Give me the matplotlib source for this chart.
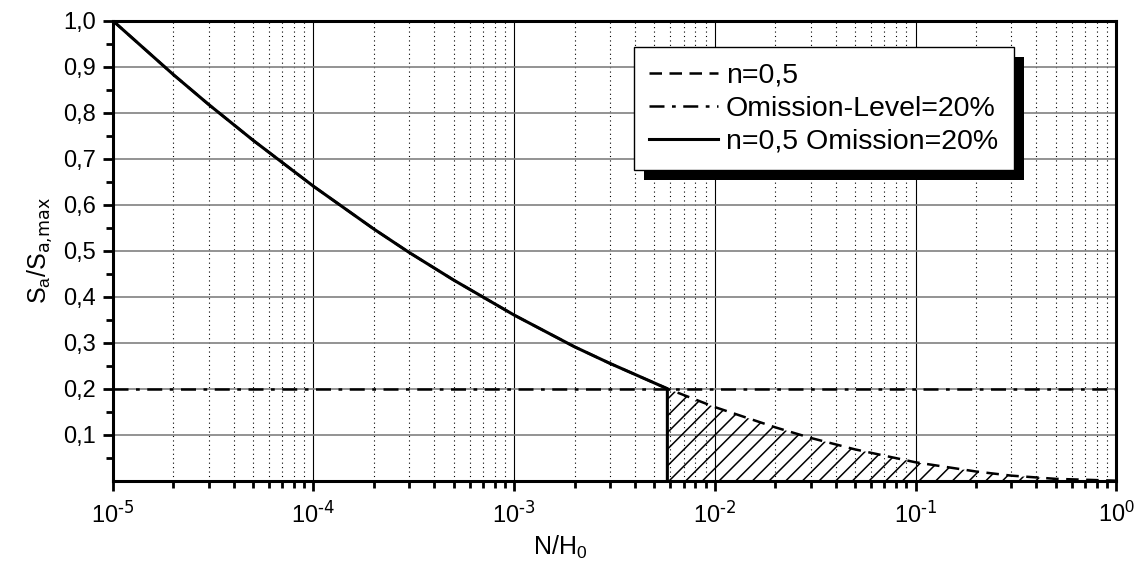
import numpy as np
import matplotlib
matplotlib.use("Agg")
import matplotlib.pyplot as plt
from matplotlib.patches import Rectangle
from matplotlib.ticker import FixedLocator, NullFormatter, LogLocator

plt.rcParams["font.family"] = ["Liberation Sans", "DejaVu Sans"]
plt.rcParams["mathtext.default"] = "regular"
plt.rcParams["hatch.linewidth"] = 1.1

# values
n_ratio = [1e-5, 2e-5, 3e-5, 5e-5, 1e-4, 2e-4, 3e-4, 5e-4, 1e-3, 2e-3, 3e-3,
           5.8e-3, 1e-2, 2e-2, 3e-2, 5e-2, 1e-1, 2e-1, 3e-1, 5e-1, 1.0]
s_ratio = [1.00, 0.883, 0.818, 0.740, 0.640, 0.547, 0.496, 0.436, 0.360, 0.291, 0.255,
           0.200, 0.160, 0.116, 0.093, 0.068, 0.040, 0.020, 0.011, 0.004, 0.0]
omission_level = 0.2
cutoff = 5.8e-3

x_ticks = [1e-5, 1e-4, 1e-3, 1e-2, 1e-1, 1e0]
x_labels = [r"10$^{\text{-5}}$", r"10$^{\text{-4}}$", r"10$^{\text{-3}}$",
            r"10$^{\text{-2}}$", r"10$^{\text{-1}}$", r"10$^{0}$"]
y_ticks = [0.1, 0.2, 0.3, 0.4, 0.5, 0.6, 0.7, 0.8, 0.9, 1.0]
y_labels = ["0,1", "0,2", "0,3", "0,4", "0,5", "0,6", "0,7", "0,8", "0,9", "1,0"]

n = np.array(n_ratio)
s = np.array(s_ratio)
keep = n <= cutoff
tail = n >= cutoff

fig = plt.figure(figsize=(11.39, 5.68), dpi=100)
ax = fig.add_axes([0.099, 0.1537, 0.881, 0.8100])

ax.set_xscale("log")
ax.set_xlim(1e-5, 1.0)
ax.set_ylim(0, 1.0)

ax.xaxis.set_major_locator(FixedLocator(x_ticks))
ax.xaxis.set_minor_locator(LogLocator(base=10, subs=np.arange(2, 10)))
ax.xaxis.set_minor_formatter(NullFormatter())
ax.set_xticklabels(x_labels, fontsize=17)
ax.yaxis.set_major_locator(FixedLocator(y_ticks))
ax.yaxis.set_minor_locator(FixedLocator(np.arange(0.05, 1.0, 0.1)))
ax.set_yticklabels(y_labels, fontsize=17)

# grid
ax.grid(True, axis="x", which="major", color="black", lw=0.8, zorder=0)
ax.grid(True, axis="x", which="minor", color="black", lw=0.8, ls=(0, (1, 3)), zorder=0)
ax.grid(True, axis="y", which="major", color="#808080", lw=1.2, zorder=0)
ax.set_axisbelow(True)

# hatched region under the dashed curve beyond the cutoff
ax.fill_between(n[tail], 0, s[tail], facecolor="none", edgecolor="black",
                hatch="//", linewidth=0, zorder=1)

ax.plot(n, s, color="black", lw=1.8, ls=(0, (5, 3)), label="n=0,5", zorder=2)
ax.axhline(omission_level, color="black", lw=1.8, ls=(0, (6, 3, 1.5, 3)),
           label="Omission-Level=20%", zorder=2)
ax.plot(list(n[keep]) + [cutoff], list(s[keep]) + [0.0], color="black", lw=2.2,
        label="n=0,5 Omission=20%", zorder=3)

for sp in ax.spines.values():
    sp.set_linewidth(2.2)
ax.tick_params(which="major", direction="out", length=7, width=2.0)
ax.tick_params(which="minor", direction="out", length=5, width=2.0)
ax.tick_params(axis="x", pad=8)
ax.tick_params(axis="y", pad=5)

ax.set_xlabel("N/H$_0$", fontsize=18)
ax.xaxis.set_label_coords(0.446, -0.115)
ax.set_ylabel(r"S$_a$/S$_{\text{a,max}}$", fontsize=18, labelpad=6)

leg = ax.legend(loc="upper right", bbox_to_anchor=(0.898, 0.943), borderaxespad=0,
                fontsize=20.5, fancybox=False, framealpha=1, edgecolor="black",
                handlelength=2.4, handletextpad=0.3, labelspacing=0.25,
                borderpad=0.55)
leg.get_frame().set_linewidth(1.0)
leg.set_zorder(6)

# black offset shadow behind the legend box
fig.canvas.draw()
bb = leg.get_window_extent().transformed(ax.transAxes.inverted())
dx = 10 / ax.bbox.width
dy = 10 / ax.bbox.height
ax.add_patch(Rectangle((bb.x0 + dx, bb.y0 - dy), bb.width, bb.height,
                       transform=ax.transAxes, facecolor="black", edgecolor="none",
                       zorder=5.5, clip_on=False))

fig.savefig("out.png", dpi=100)
